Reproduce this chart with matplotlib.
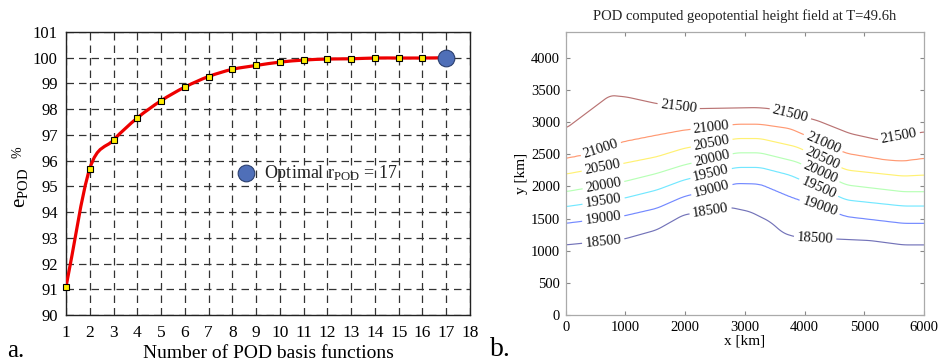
import numpy as np
import matplotlib
matplotlib.use("Agg")
import matplotlib.pyplot as plt
from matplotlib.path import Path
from matplotlib.patches import PathPatch

plt.rcParams['font.family'] = ['Liberation Serif', 'DejaVu Serif']
plt.rcParams['mathtext.fontset'] = 'custom'
plt.rcParams['mathtext.rm'] = 'Liberation Serif'
plt.rcParams['mathtext.it'] = 'Liberation Serif:italic'

# ---- panel a data
n_basis = np.arange(1, 18)
e_pod = [91.09, 95.69, 96.80, 97.66, 98.33, 98.86, 99.27, 99.55, 99.70,
         99.83, 99.91, 99.95, 99.96, 99.99, 99.99, 99.99, 100.0]
r_opt = 17
legend_pos = (8.58, 95.52)

# ---- panel b data (contour lines)
levels = [18500, 19000, 19500, 20000, 20500, 21000, 21500]
cx_18500 = [0, 966, 1524, 1970, 2751, 3087, 3421, 3645, 3868, 5096, 5654, 6000]
cy_18500 = [1090, 1178, 1323, 1556, 1674, 1607, 1452, 1271, 1209, 1158, 1090, 1090]
cx_19000 = [0, 966, 1524, 1970, 2863, 3254, 3756, 4705, 5654, 6000]
cy_19000 = [1426, 1540, 1659, 1840, 2047, 2036, 1840, 1530, 1426, 1426]
cx_19500 = [0, 966, 1524, 1970, 2863, 3254, 3756, 4705, 5654, 6000]
cy_19500 = [1685, 1814, 1943, 2098, 2295, 2295, 2176, 1788, 1695, 1695]
cx_20000 = [0, 966, 1524, 1970, 2863, 3254, 3868, 4705, 5654, 6000]
cy_20000 = [1917, 2072, 2201, 2331, 2522, 2522, 2382, 2021, 1917, 1917]
cx_20500 = [0, 966, 1524, 1970, 2863, 3254, 3868, 4705, 5654, 6000]
cy_20500 = [2191, 2357, 2460, 2589, 2744, 2744, 2615, 2253, 2160, 2176]
cx_21000 = [0, 296, 966, 1524, 1970, 2863, 3254, 3756, 4705, 5375, 5654, 6000]
cy_21000 = [2434, 2486, 2693, 2796, 2873, 2966, 2966, 2899, 2512, 2408, 2393, 2434]
cx_21500 = [0, 742, 1021, 1524, 2193, 3198, 3421, 4203, 4760, 5263, 6000]
cy_21500 = [2899, 3416, 3390, 3287, 3209, 3225, 3209, 3028, 2822, 2718, 2848]
curves = [(cx_18500, cy_18500), (cx_19000, cy_19000), (cx_19500, cy_19500),
          (cx_20000, cy_20000), (cx_20500, cy_20500), (cx_21000, cy_21000),
          (cx_21500, cy_21500)]

fig = plt.figure(figsize=(9.39, 3.64), dpi=100)

# ================= panel a
ax1 = fig.add_axes([0.0703, 0.1346, 0.4302, 0.7774])

# smooth curve through the points (Catmull-Rom as cubic bezier)
px = n_basis.astype(float)
py = np.array(e_pod)
tx = np.gradient(px)
ty = np.gradient(py)
verts = [(px[0], py[0])]
codes = [Path.MOVETO]
for i in range(len(px) - 1):
    verts += [(px[i] + tx[i] / 3, py[i] + ty[i] / 3),
              (px[i + 1] - tx[i + 1] / 3, py[i + 1] - ty[i + 1] / 3),
              (px[i + 1], py[i + 1])]
    codes += [Path.CURVE4] * 3
ax1.add_patch(PathPatch(Path(verts, codes), fill=False, edgecolor='#ee0000',
                        lw=2.3, zorder=3))
ax1.plot(n_basis[:-1], e_pod[:-1], ls='none', marker='s', ms=5,
         mfc='#ffee00', mec='k', mew=0.8, zorder=4, clip_on=False)
ax1.plot([r_opt], [e_pod[-1]], ls='none', marker='o', ms=12,
         mfc='#4f6fb8', mec='#2b3f6e', mew=0.8, zorder=5, clip_on=False)
ax1.plot([legend_pos[0]], [legend_pos[1]], ls='none', marker='o', ms=12,
         mfc='#4f6fb8', mec='#2b3f6e', mew=0.8, zorder=5)
ax1.text(legend_pos[0] + 0.75, legend_pos[1], r'Optimal r$_{\mathrm{POD}}$ = 17',
         fontsize=13, va='center', ha='left', color='#222222', zorder=5)

ax1.set_xlim(1, 18)
ax1.set_ylim(90, 101)
ax1.set_xticks(range(1, 19))
ax1.set_yticks(range(90, 102))
ax1.grid(True, color='#333333', ls=(0, (6, 4)), lw=0.9)
ax1.tick_params(length=0, labelsize=12, pad=6)
ax1.tick_params(axis='x', labelsize=12.5, pad=7)
for s in ax1.spines.values():
    s.set_color('#222222')
    s.set_linewidth(1.0)
ax1.set_xlabel('Number of POD basis functions', fontsize=14, labelpad=3)
fig.text(21 / 939, 1 - 188 / 364, r'e$_{\mathrm{POD}}$', fontsize=15,
         rotation=90, ha='center', va='center')
fig.text(17.5 / 939, 1 - 152 / 364, '%', fontsize=10,
         rotation=90, ha='center', va='center')
fig.text(0.008, 0.018, 'a.', fontsize=18, ha='left', va='baseline')

# ================= panel b
ax2 = fig.add_axes([0.6025, 0.1346, 0.3815, 0.7774])
xg = np.linspace(0, 6000, 301)
yg = np.linspace(0, 4400, 221)
ylev = np.array([np.interp(xg, cx, cy) for cx, cy in curves])
# light smoothing of the traced lines along x
k = 9
kern = np.ones(k) / k
ylev = np.array([np.convolve(np.pad(r, k // 2, mode='edge'), kern, mode='valid')
                 for r in ylev])
Z = np.empty((len(yg), len(xg)))
for j in range(len(xg)):
    ys = ylev[:, j]
    lo = levels[0] - 5000 * 500 / (ys[1] - ys[0])
    hi = levels[-1] + 5000 * 500 / (ys[-1] - ys[-2])
    Z[:, j] = np.interp(yg, np.r_[ys[0] - 5000, ys, ys[-1] + 5000],
                        np.r_[lo, levels, hi])
X, Y = np.meshgrid(xg, yg)
cs = ax2.contour(X, Y, Z, levels=levels, cmap='jet', linewidths=0.85, alpha=0.55)
label_pos = [(631, 1116), (2428, 1607), (4175, 1168),
             (631, 1478), (2428, 2021), (4231, 1633),
             (631, 1788), (2428, 2227), (4231, 1969),
             (631, 2021), (2445, 2460), (4259, 2201),
             (620, 2279), (2445, 2667), (4286, 2408),
             (592, 2563), (2445, 2899), (4286, 2615),
             (1886, 3209), (3756, 3106), (5598, 2692)]
labels = ax2.clabel(cs, manual=label_pos, fmt='%d', fontsize=10.5, colors='k',
                    inline=True, inline_spacing=3)
for t in labels:
    t.set_alpha(1)
    t.set_color('#111111')

ax2.set_xlim(0, 6000)
ax2.set_ylim(0, 4400)
ax2.set_xticks(range(0, 6001, 1000))
ax2.set_yticks(range(0, 4001, 500))
ax2.tick_params(direction='in', length=3, color='#888888', labelsize=10.5,
                top=True, right=True, pad=4)
for s in ax2.spines.values():
    s.set_color('#aaaaaa')
    s.set_linewidth(0.9)
ax2.set_title('POD computed geopotential height field at T=49.6h',
              fontsize=10.5, pad=9, color='#222222')
ax2.set_xlabel('x [km]', fontsize=11, labelpad=1)
ax2.set_ylabel('y [km]', fontsize=11, labelpad=2)
fig.text(0.522, 0.022, 'b.', fontsize=20, ha='left', va='baseline')

fig.savefig('out.png', dpi=100)
